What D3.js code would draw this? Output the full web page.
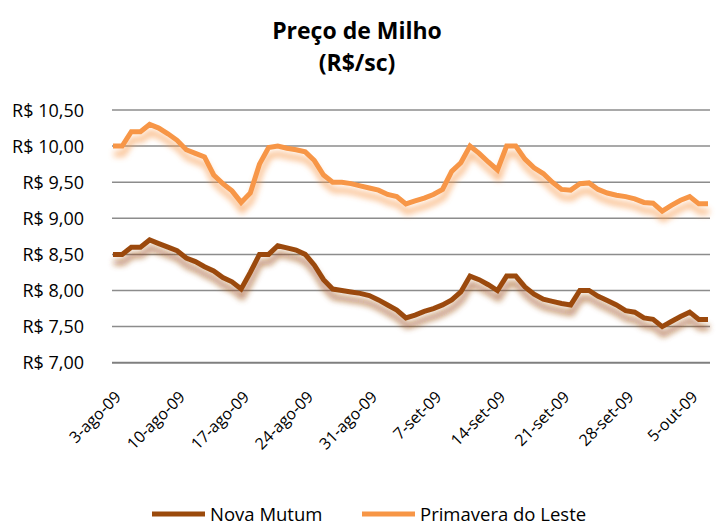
<!DOCTYPE html>
<html>
<head>
<meta charset="utf-8">
<script src="https://cdn.jsdelivr.net/npm/d3@7"></script>
<style>
  body { margin: 0; background: #fff; }
  text { font-family: "Open Sans", "Noto Sans", sans-serif; fill: #000; }
</style>
</head>
<body>
<script>
// dados (um valor por dia, 3-ago-09 a 7-out-09)
const startDate = new Date(2009, 7, 3);
const novaMutum = [
  8.50, 8.50, 8.60, 8.60, 8.70, 8.65, 8.60, 8.55, 8.45, 8.40,
  8.33, 8.27, 8.18, 8.12, 8.02, 8.25, 8.50, 8.50, 8.62, 8.59,
  8.56, 8.50, 8.35, 8.15, 8.02, 8.00, 7.98, 7.96, 7.93, 7.87,
  7.80, 7.73, 7.62, 7.66, 7.71, 7.75, 7.80, 7.87, 7.98, 8.20,
  8.15, 8.08, 8.00, 8.20, 8.20, 8.05, 7.95, 7.88, 7.85, 7.82,
  7.80, 8.00, 8.00, 7.92, 7.86, 7.80, 7.72, 7.70, 7.62, 7.60,
  7.50, 7.57, 7.64, 7.70, 7.60, 7.60
];
const primavera = [
  10.00, 10.00, 10.20, 10.20, 10.30, 10.25, 10.17, 10.08, 9.95, 9.90,
  9.85, 9.60, 9.48, 9.38, 9.22, 9.35, 9.75, 9.98, 10.00, 9.97,
  9.95, 9.92, 9.80, 9.60, 9.50, 9.50, 9.48, 9.45, 9.42, 9.39,
  9.33, 9.30, 9.20, 9.24, 9.28, 9.33, 9.40, 9.65, 9.77, 10.00,
  9.90, 9.78, 9.67, 10.00, 10.00, 9.82, 9.70, 9.62, 9.50, 9.40,
  9.39, 9.48, 9.49, 9.40, 9.35, 9.32, 9.30, 9.27, 9.22, 9.21,
  9.10, 9.18, 9.25, 9.30, 9.20, 9.20
];
const seriesNames = ["Nova Mutum", "Primavera do Leste"];
const seriesColors = ["#9b4a0c", "#f79646"];
const yTicks = [7.0, 7.5, 8.0, 8.5, 9.0, 9.5, 10.0, 10.5];
const xTickDays = [3, 10, 17, 24, 31, 38, 45, 52, 59, 66]; // dias desde 1-ago
const xTickLabels = ["3-ago-09", "10-ago-09", "17-ago-09", "24-ago-09", "31-ago-09",
  "7-set-09", "14-set-09", "21-set-09", "28-set-09", "5-out-09"];

const width = 717, height = 524;
const svg = d3.select("body").append("svg")
  .attr("width", width)
  .attr("height", height);

const dates = novaMutum.map((_, i) => d3.timeDay.offset(startDate, i));
const x = d3.scaleTime()
  .domain([dates[0], dates[dates.length - 1]])
  .range([113, 708]);
const y = d3.scaleLinear().domain([7, 10.5]).range([362.7, 110]);

// sombra das linhas
const defs = svg.append("defs");
const f = defs.append("filter").attr("id", "sombra")
  .attr("x", "-10%").attr("y", "-20%").attr("width", "120%").attr("height", "170%");
f.append("feOffset").attr("in", "SourceGraphic").attr("dx", 1).attr("dy", 8).attr("result", "off");
f.append("feGaussianBlur").attr("in", "off").attr("stdDeviation", 3).attr("result", "blur");
f.append("feComponentTransfer").attr("in", "blur").attr("result", "fade")
  .append("feFuncA").attr("type", "linear").attr("slope", 0.7);
const merge = f.append("feMerge");
merge.append("feMergeNode").attr("in", "fade");
merge.append("feMergeNode").attr("in", "SourceGraphic");

// título
svg.append("text").attr("x", 357).attr("y", 39).attr("text-anchor", "middle")
  .style("font-size", "23px").style("font-weight", "bold").text("Preço de Milho");
svg.append("text").attr("x", 357).attr("y", 71).attr("text-anchor", "middle")
  .style("font-size", "23px").style("font-weight", "bold").text("(R$/sc)");

// grade horizontal
svg.append("g").selectAll("line")
  .data(yTicks)
  .enter().append("line")
  .attr("x1", 112).attr("x2", 710)
  .attr("y1", d => y(d)).attr("y2", d => y(d))
  .attr("stroke", d => d === 7 ? "#7f7f7f" : "#8c8c8c")
  .attr("stroke-width", d => d === 7 ? 2 : 1.5);

// rótulos do eixo y
const fmt = d3.format(".2f");
svg.append("g").selectAll("text")
  .data(yTicks)
  .enter().append("text")
  .attr("x", 84).attr("y", d => y(d) + 6.5)
  .attr("text-anchor", "end")
  .style("font-size", "18px")
  .text(d => "R$ " + fmt(d).replace(".", ","));

// rótulos do eixo x
svg.append("g").selectAll("text")
  .data(xTickDays)
  .enter().append("text")
  .attr("text-anchor", "end")
  .attr("transform", (d, i) => {
    const px = x(new Date(2009, 7, d)) + 9;
    return `translate(${px},398) rotate(-45)`;
  })
  .style("font-size", "16px")
  .text((d, i) => xTickLabels[i]);

// linhas
const line = d3.line()
  .x((d, i) => x(dates[i]))
  .y(d => y(d));

[novaMutum, primavera].forEach((s, k) => {
  svg.append("path")
    .datum(s)
    .attr("fill", "none")
    .attr("stroke", seriesColors[k])
    .attr("stroke-width", 5)
    .attr("stroke-linejoin", "miter")
    .attr("filter", "url(#sombra)")
    .attr("d", line);
});

// legenda
const legX = [152, 362];
seriesNames.forEach((n, k) => {
  const g = svg.append("g").attr("transform", `translate(${legX[k]},514)`);
  g.append("line").attr("x1", 0).attr("x2", 53).attr("y1", 0).attr("y2", 0)
    .attr("stroke", seriesColors[k]).attr("stroke-width", 5);
  g.append("text").attr("x", 58).attr("y", 6.5).style("font-size", "18.5px").text(n);
});
</script>
</body>
</html>
